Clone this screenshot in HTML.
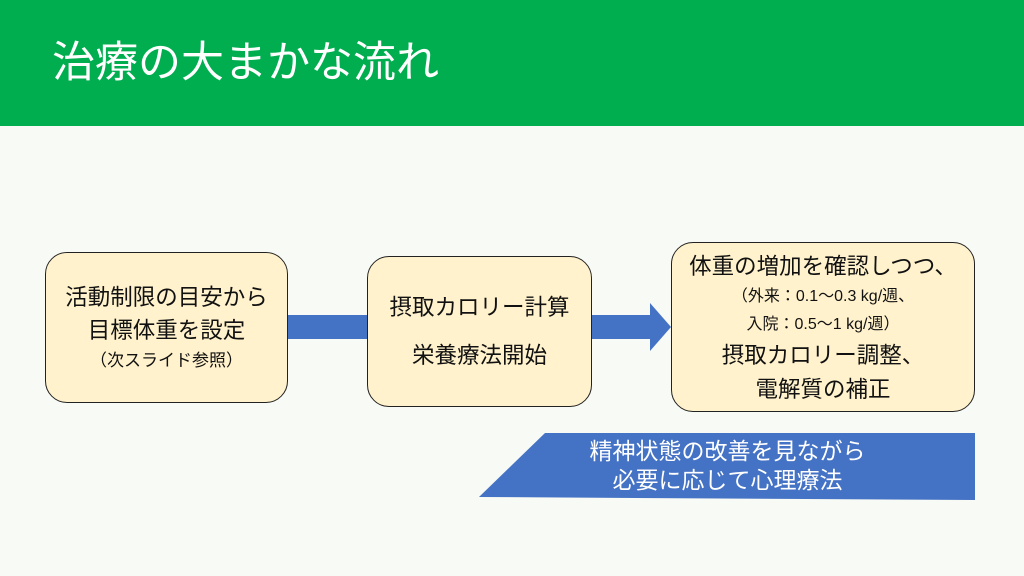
<!DOCTYPE html>
<html><head><meta charset="utf-8"><style>
body{margin:0;width:1024px;height:576px;background:#f8faf5;position:relative;overflow:hidden;font-family:"Liberation Sans","Noto Sans CJK JP",sans-serif;}
.hdr{position:absolute;left:0;top:0;width:1024px;height:126px;background:#00ad4f;}
.title{position:absolute;left:52px;top:36px;color:#fff;font-size:43px;line-height:54px;}
.box{position:absolute;background:#fff2cc;border:1.5px solid #222;border-radius:22px;box-sizing:border-box;display:flex;flex-direction:column;justify-content:center;align-items:center;text-align:center;color:#111;font-size:22.5px;white-space:nowrap;}
</style></head><body>
<div class="hdr"></div>
<div class="title">治療の大まかな流れ</div>
<svg style="position:absolute;left:0;top:0" width="1024" height="576">
<rect x="285" y="315" width="85" height="24" fill="#4472c4"/>
<polygon points="589,315 650,315 650,303 671,327 650,351 650,339 589,339" fill="#4472c4"/>
<polygon points="545,433 975,433 975,500 479,497" fill="#4472c4"/>
</svg>
<div class="box" style="left:45px;top:252px;width:243px;height:151px;">
<div style="line-height:33px">活動制限の目安から<br>目標体重を設定</div>
<div style="font-size:17px;line-height:28px">（次スライド参照）</div></div>
<div class="box" style="left:367px;top:256px;width:225px;height:151px;line-height:48px;">摂取カロリー計算<br>栄養療法開始</div>
<div class="box" style="left:671px;top:242px;width:304px;height:170px;padding-top:4px;">
<div style="line-height:32px">体重の増加を確認しつつ、</div>
<div style="font-size:16px;line-height:28px">（外来：0.1～0.3 kg/週、<br>入院：0.5～1 kg/週）</div>
<div style="line-height:34px">摂取カロリー調整、<br>電解質の補正</div></div>
<div style="position:absolute;left:540px;top:437px;width:375px;text-align:center;color:#fff;font-size:23px;line-height:29px;white-space:nowrap;">精神状態の改善を見ながら<br>必要に応じて心理療法</div>
</body></html>
